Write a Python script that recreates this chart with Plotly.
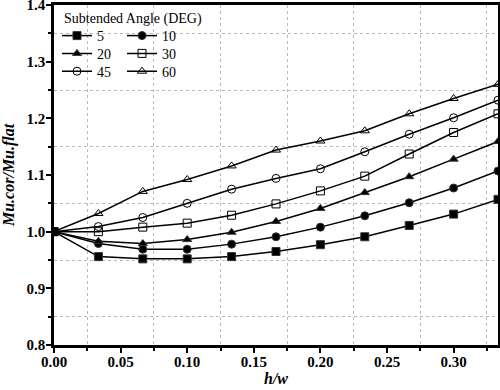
import plotly.graph_objects as go

hw = [0.0, 1/30, 2/30, 3/30, 4/30, 5/30, 6/30, 7/30, 8/30, 9/30, 10/30]
a5 = [1.0, 0.956, 0.952, 0.952, 0.956, 0.965, 0.977, 0.991, 1.011, 1.031, 1.057]
a10 = [1.0, 0.979, 0.969, 0.969, 0.978, 0.991, 1.008, 1.028, 1.051, 1.077, 1.107]
a20 = [1.0, 0.983, 0.979, 0.986, 0.999, 1.018, 1.041, 1.069, 1.097, 1.128, 1.159]
a30 = [1.0, 1.0, 1.008, 1.015, 1.029, 1.049, 1.072, 1.098, 1.137, 1.175, 1.208]
a45 = [1.0, 1.009, 1.025, 1.050, 1.075, 1.094, 1.111, 1.141, 1.172, 1.201, 1.232]
a60 = [1.0, 1.032, 1.071, 1.092, 1.116, 1.144, 1.160, 1.178, 1.208, 1.235, 1.260]

names = ["5", "10", "20", "30", "45", "60"]
values = [a5, a10, a20, a30, a45, a60]
symbols = ["square", "circle", "triangle-up", "square-open", "circle-open", "triangle-up-open"]

SERIF = "Liberation Serif, Times New Roman, serif"

fig = go.Figure()
legend_layout = {}
for i, (name, vals, sym) in enumerate(zip(names, values, symbols)):
    key = "legend" if i == 0 else f"legend{i + 1}"
    fig.add_trace(go.Scatter(
        x=hw, y=vals, name=name, mode="lines+markers",
        line=dict(color="black", width=1.5),
        marker=dict(symbol=sym, size=8, color="black",
                    line=dict(color="#333333", width=1)),
        legend=key,
    ))
    col, row = i % 2, i // 2
    legend_layout[key] = dict(
        font=dict(family=SERIF, size=14, color="black"),
        bgcolor="rgba(0,0,0,0)", borderwidth=0,
        xref="container", yref="container", xanchor="left", yanchor="middle",
        itemwidth=30,
        x=(57 + col * 65) / 500, y=1 - (36 + row * 17.8) / 390,
    )

axis_common = dict(
    showline=True, linecolor="black", linewidth=2.5, mirror=True,
    ticks="outside", ticklen=5, tickwidth=2, tickcolor="black",
    showgrid=False, zeroline=False, ticklabeloverflow="allow",
    tickfont=dict(family=SERIF, size=15, color="black", weight="bold"),
)

fig.update_xaxes(
    range=[0, 1/3], dtick=0.05, tick0=0, tickformat=".2f",
    ticklabelstandoff=-4,
    minor=dict(dtick=0.025, ticks="outside", ticklen=3, tickwidth=2,
               tickcolor="black", showgrid=True, gridcolor="#b8b8c8",
               griddash="dot", gridwidth=1),
    **axis_common,
)
fig.update_yaxes(
    range=[0.8, 1.4], dtick=0.1, tick0=0.8, tickformat=".1f",
    ticklabelstandoff=-2,
    minor=dict(dtick=0.05, ticks="outside", ticklen=3, tickwidth=2,
               tickcolor="black", showgrid=True, gridcolor="#b8b8c8",
               griddash="dot", gridwidth=1),
    **axis_common,
)

fig.update_layout(
    width=500, height=390,
    margin=dict(l=54, r=2, t=5, b=45, autoexpand=False),
    paper_bgcolor="white", plot_bgcolor="white",
    showlegend=True,
    annotations=[
        dict(text="Subtended Angle (DEG)", xref="paper", yref="paper",
             x=(62 - 54) / 444, y=1 - (19 - 5) / 340, xanchor="left", yanchor="middle",
             showarrow=False, font=dict(family=SERIF, size=14, color="black")),
        dict(text="<b><i>h/w</i></b>", xref="paper", yref="paper",
             x=0.5, y=(345 - 378) / 340, xanchor="center", yanchor="middle",
             showarrow=False, font=dict(family=SERIF, size=16, color="black")),
        dict(text="<b><i>Mu.cor/Mu.flat</i></b>", xref="paper", yref="paper",
             x=(9 - 54) / 444, y=0.5, xanchor="center", yanchor="middle", textangle=-90,
             showarrow=False, font=dict(family=SERIF, size=16, color="black")),
    ],
    **legend_layout,
)

fig.write_html("out.html", post_script="document.body.style.margin='0';",
               config={"displayModeBar": False})
